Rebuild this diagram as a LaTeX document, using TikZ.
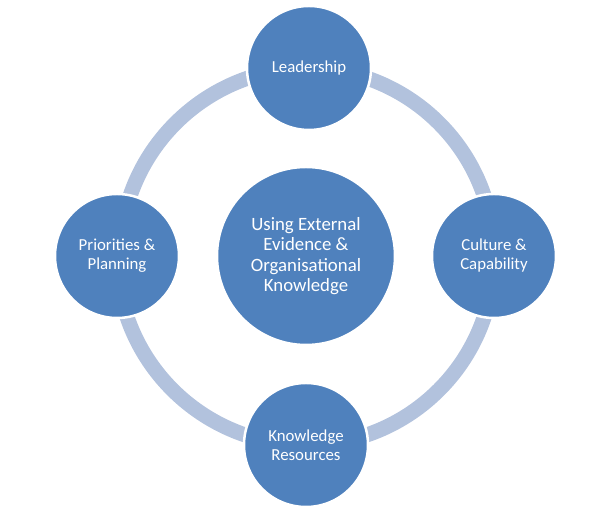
\documentclass[tikz,border=0pt]{standalone}
\usepackage{fontspec}
\setmainfont{Carlito}
\usetikzlibrary{backgrounds}

\definecolor{circblue}{HTML}{4F81BD}
\definecolor{ringblue}{HTML}{B2C2DD}

\tikzset{
	topic/.style={circle, fill=circblue, draw=white, line width=2.5pt, minimum size=124pt,
		inner sep=0pt, text=white, align=center, font=\fontsize{16.8}{19}\selectfont},
	hub/.style={topic, minimum size=178pt, font=\fontsize{18.8}{20.5}\selectfont},
	ring/.style={draw=ringblue, line width=15pt}
}

\begin{document}
\begin{tikzpicture}[x=1pt,y=1pt]
		\useasboundingbox (0,0) rectangle (611,510);
		
		%Nodes
		\node (hub) at (306,254) [hub]{Using External\\Evidence \&\\Organisational\\Knowledge};
		
		\node (leadership) at (309,442) [topic]{Leadership};
		
		\node (priorities) at (117,254) [topic]{Priorities \&\\Planning};
		
		\node (culture) at (494,254) [topic]{Culture \&\\Capability};
		
		\node (resources) at (306,65) [topic]{Knowledge\\Resources};
		
		%Ring behind the circles
		\begin{scope}[on background layer]
		\draw[ring] (leadership.center) arc[start angle=90, end angle=180, radius=189];
		\draw[ring] (priorities.center) arc[start angle=180, end angle=270, radius=189];
		\draw[ring] (resources.center) arc[start angle=270, end angle=360, radius=188];
		\draw[ring] (culture.center) arc[start angle=0, end angle=90, radius=188];
		\end{scope}
\end{tikzpicture}
\end{document}
